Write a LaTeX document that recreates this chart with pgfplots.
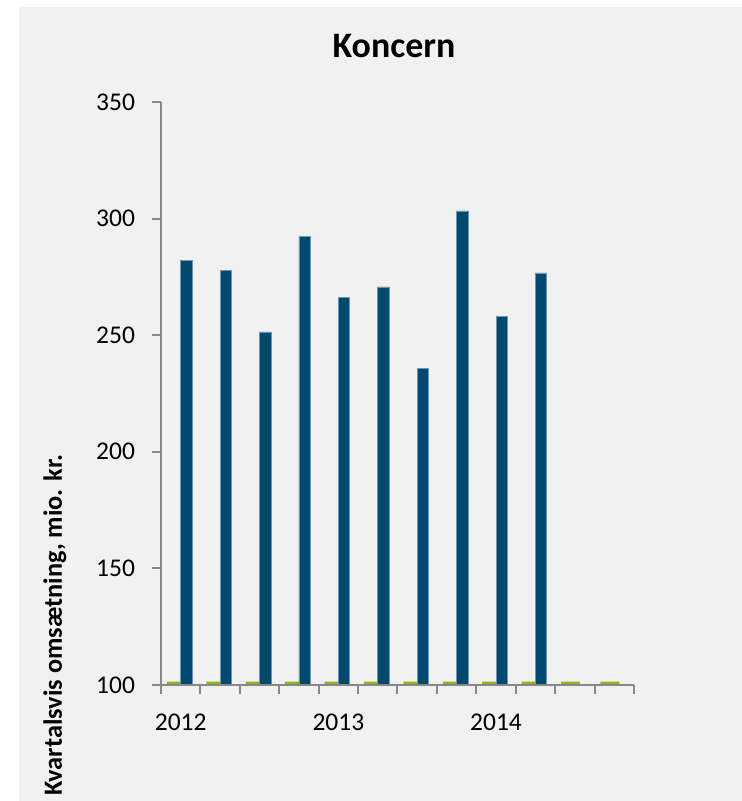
\documentclass[border=0pt]{standalone}
\usepackage{fontspec}
\setmainfont{Carlito}
\usepackage{pgfplots}
\pgfplotsset{compat=1.18}
\definecolor{bgcol}{HTML}{F0F1F0}
\definecolor{barblue}{HTML}{004A70}
\definecolor{bluedge}{HTML}{6E96B4}
\definecolor{bargreen}{HTML}{8EB41A}
\definecolor{axgray}{HTML}{888888}

\begin{document}
\begin{tikzpicture}
% page = 742x801 px at 0.5bp per px
\path[use as bounding box] (-80.5bp,-58bp) rectangle (290.5bp,342.5bp);
\fill[bgcol] (-71bp,-58bp) rectangle (290.5bp,339bp);
\begin{axis}[
    at={(0,0)}, anchor=south west,
    scale only axis,
    width=236.5bp, height=291.5bp,
    xmin=0, xmax=12,
    ymin=100, ymax=350,
    ytick={100,150,...,350},
    xtick={0,...,12},
    xticklabels={},
    extra x ticks={0.5,4.5,8.5},
    extra x tick labels={2012,2013,2014},
    extra x tick style={major tick length=0pt},
    axis x line*=bottom,
    axis y line*=left,
    axis line style={axgray, line width=1bp},
    tick style={axgray, line width=1bp},
    tick align=outside,
    major tick length=4.5bp,
    axis on top,
    ticklabel style={font=\fontsize{12.8}{14}\selectfont},
    xticklabel style={yshift=-11bp},
    yticklabel style={xshift=-5bp},
    /pgf/number format/assume math mode=true,
    title={Koncern},
    title style={at={(axis description cs:0.4926,1.0566)}, anchor=base,
        font=\bfseries\fontsize{18}{20}\selectfont},
    ylabel={Kvartalsvis omsætning, mio. kr.},
    ylabel style={at={(axis description cs:-0.2093,0.1029)}, anchor=base,
        font=\bfseries\fontsize{13.2}{15}\selectfont},
]
\addplot[ybar, bar width=0.48, bar shift=-0.11, fill=bargreen, draw=none]
    coordinates {
    (0.5,101.5) (1.5,101.5) (2.5,101.5) (3.5,101.5) (4.5,101.5) (5.5,101.5)
    (6.5,101.5) (7.5,101.5) (8.5,101.5) (9.5,101.5) (10.5,101.5) (11.5,101.5)
};
\addplot[ybar, bar width=0.29, bar shift=0.145, fill=barblue, draw=bluedge, line width=0.4bp]
    coordinates {
    (0.5,281.9) (1.5,277.8) (2.5,251.4) (3.5,292.5) (4.5,266.3)
    (5.5,270.7) (6.5,235.9) (7.5,303.3) (8.5,258.1) (9.5,276.7)
};
\end{axis}
\end{tikzpicture}
\end{document}
